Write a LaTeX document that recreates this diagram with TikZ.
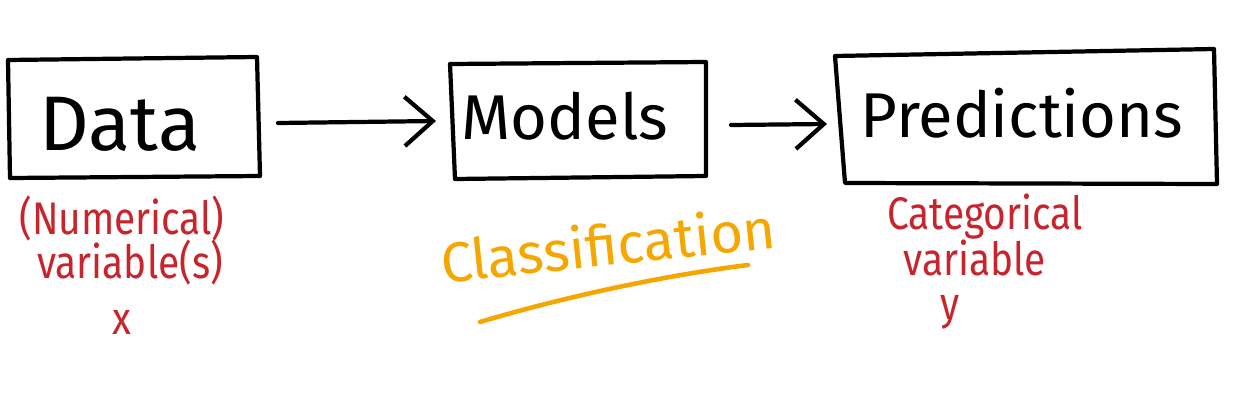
\documentclass[tikz,border=0pt]{standalone}
\usepackage{fontspec}
\setmainfont{Fira Sans}
\usetikzlibrary{arrows.meta}
\definecolor{inkred}{HTML}{C8242C}
\definecolor{inkorange}{HTML}{F5A700}
\tikzset{
  x=0.01cm, y=-0.01cm,
  ink/.style={line width=1.2pt, line cap=round, line join=round},
  boxtext/.style={font=\fontsize{18}{21}\selectfont, text=black, inner sep=0pt},
  redtext/.style={font=\fontsize{13}{15}\selectfont, text=inkred, xscale=0.85, inner sep=0pt},
  flow/.style={ink, -{Straight Barb[length=8pt, width=14pt, line width=1.2pt]}}
}
\begin{document}
\begin{tikzpicture}
\useasboundingbox (0,0) rectangle (1242,406);
% boxes
\draw[ink] (8,60) -- (257,57) -- (260,176) -- (10,178) -- cycle;
\draw[ink] (450,64) -- (706,62) -- (706,176) -- (455,179) -- cycle;
\draw[ink] (835,56) -- (1214,49) -- (1217,184) -- (845,183) -- cycle;
\node[boxtext, font=\fontsize{22}{26}\selectfont] (data) at (120,124) {Data};
\node[boxtext] (models) at (565,116) {Models};
\node[boxtext] (pred) at (1022,113) {Predictions};
% arrows
\coordinate (a1s) at (278,123);
\coordinate (a1e) at (436,121);
\coordinate (a2s) at (731,125);
\coordinate (a2e) at (827,124);
\draw[flow] (a1s) -- (a1e);
\draw[flow] (a2s) -- (a2e);
% red labels
\node[redtext] (num) at (122,218) {(Numerical)};
\node[redtext] (var1) at (130,262) {variable(s)};
\node[redtext] (xv) at (122,322) {x};
\node[redtext] (cat) at (985,217) {Categorical};
\node[redtext] (var2) at (975,258) {variable};
\node[redtext] (yv) at (950,312) {y};
% orange
\node[font=\fontsize{16}{19}\selectfont, text=inkorange, rotate=6, inner sep=0pt] (cls) at (608,244) {Classification};
\coordinate (u1) at (480,322);
\coordinate (u2) at (748,265);
\draw[line width=1.3pt, line cap=round, inkorange] (u1) .. controls (560,298) and (660,276) .. (u2);
\end{tikzpicture}
\end{document}
